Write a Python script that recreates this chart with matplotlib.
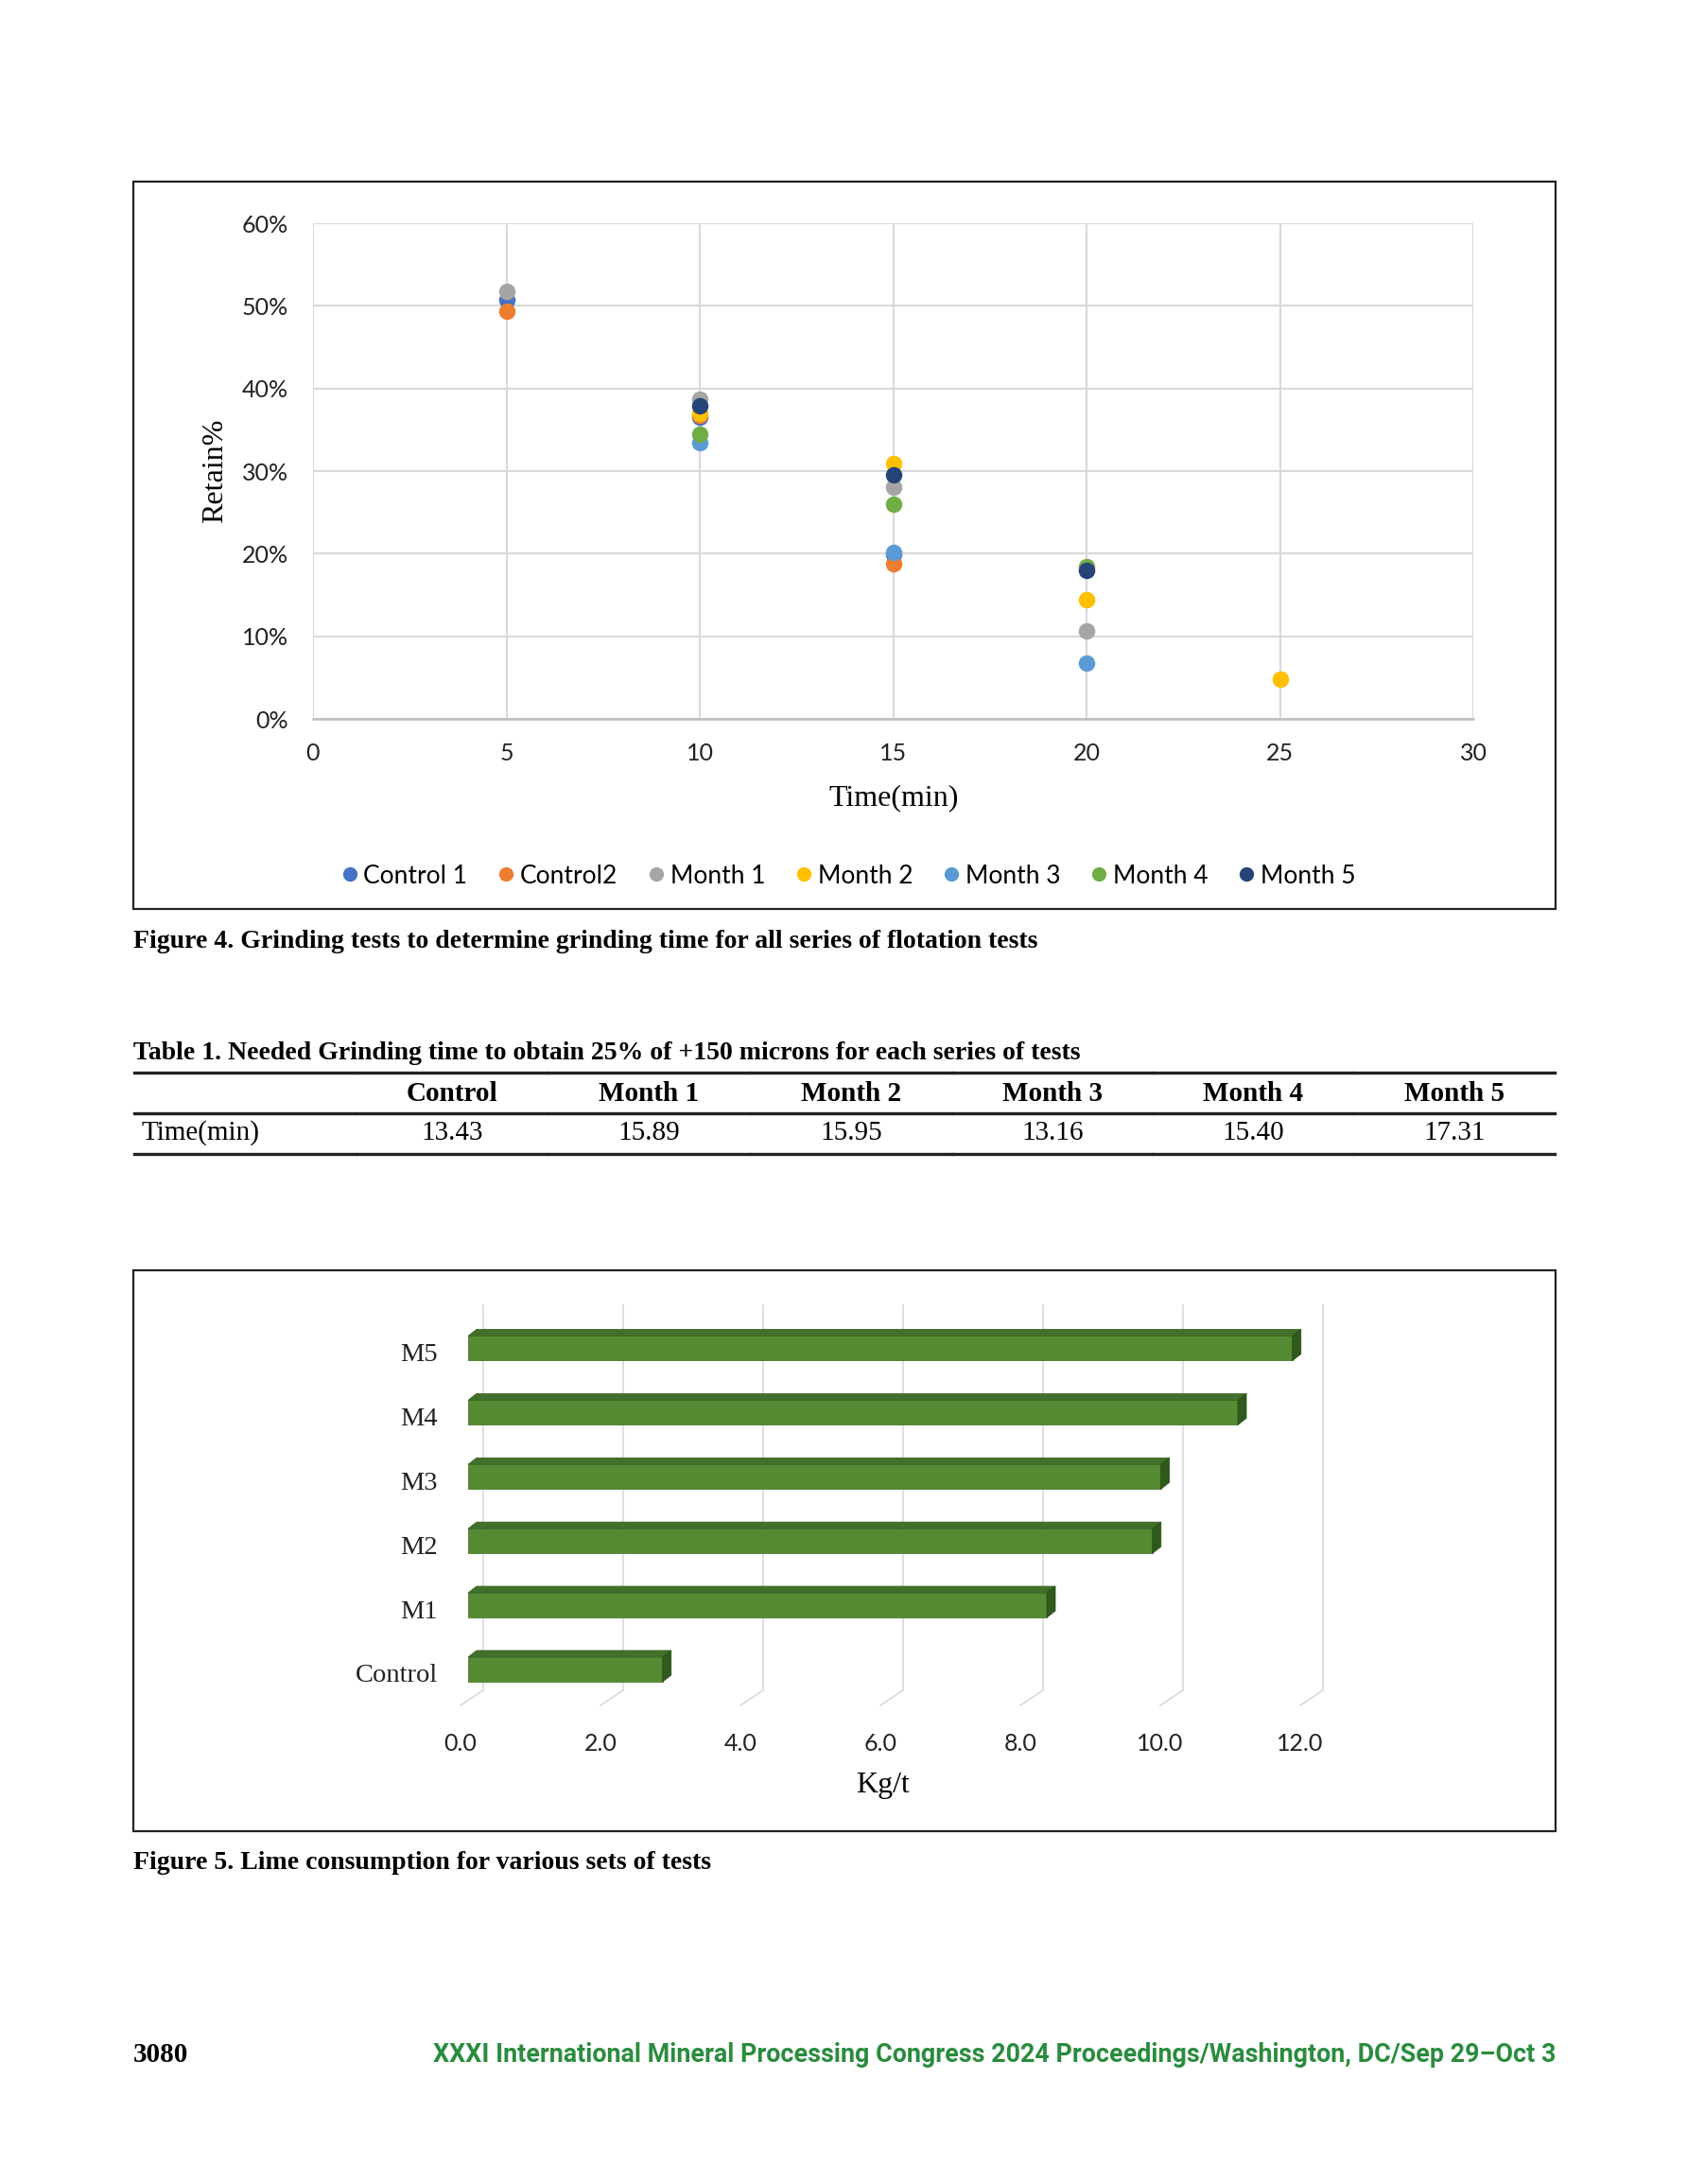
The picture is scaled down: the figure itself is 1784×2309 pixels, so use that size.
import matplotlib
matplotlib.use("Agg")
import matplotlib.pyplot as plt
from matplotlib.patches import Polygon, Rectangle
from matplotlib.lines import Line2D
from matplotlib.ticker import PercentFormatter
from matplotlib.transforms import ScaledTranslation

W, H = 1784, 2309

# Figure 4 - grinding tests (time in min, retain fraction)
series_names = ["Control 1", "Control2", "Month 1", "Month 2", "Month 3", "Month 4", "Month 5"]
series_colors = ["#4472C4", "#ED7D31", "#A5A5A5", "#FFC000", "#5B9BD5", "#70AD47", "#264478"]
control1_t = [5, 10, 15]
control1_r = [0.507, 0.365, 0.199]
control2_t = [5, 10, 15]
control2_r = [0.493, 0.367, 0.188]
month1_t = [5, 10, 15, 20]
month1_r = [0.518, 0.387, 0.280, 0.106]
month2_t = [10, 15, 20, 25]
month2_r = [0.370, 0.309, 0.144, 0.048]
month3_t = [10, 15, 20]
month3_r = [0.334, 0.201, 0.067]
month4_t = [10, 15, 20]
month4_r = [0.345, 0.260, 0.184]
month5_t = [10, 15, 20]
month5_r = [0.379, 0.295, 0.180]

# Table 1
table_cols = ["Control", "Month 1", "Month 2", "Month 3", "Month 4", "Month 5"]
table_row_label = "Time(min)"
table_values = ["13.43", "15.89", "15.95", "13.16", "15.40", "17.31"]

# Figure 5 - lime consumption
lime_cats = ["Control", "M1", "M2", "M3", "M4", "M5"]
lime_vals = [2.78, 8.27, 9.78, 9.9, 11.0, 11.78]
lime_ticks = [0, 2, 4, 6, 8, 10, 12]

SANS = "Lato"
SERIF = "Liberation Serif"


def px_axes(fig, x0, y0, x1, y1):
    return fig.add_axes([x0 / W, 1 - y1 / H, (x1 - x0) / W, (y1 - y0) / H])


def fx(x):
    return x / W


def fy(y):
    return 1 - y / H


fig = plt.figure(figsize=(W / 100, H / 100), dpi=100)
fig.patch.set_facecolor("white")

# frames around the two charts
for (x0, y0, x1, y1) in [(141, 192, 1645, 961), (141, 1343, 1645, 1936)]:
    fig.patches.append(Rectangle((fx(x0), fy(y1)), (x1 - x0) / W, (y1 - y0) / H,
                                 transform=fig.transFigure, fill=False,
                                 edgecolor="#222222", lw=1.6))

# ---- scatter chart ----
ax = px_axes(fig, 331, 236, 1558, 760)
ts = [control1_t, control2_t, month1_t, month2_t, month3_t, month4_t, month5_t]
rs = [control1_r, control2_r, month1_r, month2_r, month3_r, month4_r, month5_r]
for name, col, t, r in zip(series_names, series_colors, ts, rs):
    ax.plot(t, r, "o", color=col, markersize=12.6, markeredgewidth=0, label=name, zorder=3)
ax.set_xlim(0, 30)
ax.set_ylim(0, 0.6)
ax.set_xticks(range(0, 31, 5))
ax.set_yticks([i / 10 for i in range(7)])
ax.yaxis.set_major_formatter(PercentFormatter(1.0, decimals=0))
ax.grid(True, color="#D9D9D9", lw=1.5)
ax.set_axisbelow(True)
for s in ["top", "right", "left"]:
    ax.spines[s].set_visible(False)
ax.spines["bottom"].set_color("#BFBFBF")
ax.spines["bottom"].set_linewidth(1.8)
ax.tick_params(length=0, labelsize=18, colors="#222222")
ax.tick_params(axis="y", pad=19)
ax.tick_params(axis="x", pad=18)
for lab in ax.get_xticklabels() + ax.get_yticklabels():
    lab.set_fontfamily(SANS)
fig.text(fx(945), fy(844), "Time(min)", family=SERIF, fontsize=23, ha="center", va="center")
fig.text(fx(228), fy(498), "Retain%", family=SERIF, fontsize=23, ha="center", va="center",
         rotation=90)
handles = [Line2D([], [], ls="", marker="o", color=c, markersize=11, markeredgewidth=0)
           for c in series_colors]
fig.legend(handles, series_names, loc="center", bbox_to_anchor=(fx(895), fy(926)), ncol=7,
           frameon=False, prop={"family": SANS, "size": 19}, handletextpad=0.05,
           columnspacing=1.05, handlelength=1.0)

fig.text(fx(141), fy(995), "Figure 4. Grinding tests to determine grinding time for all series of flotation tests",
         family=SERIF, fontsize=20, weight="bold", ha="left", va="center")

# ---- table ----
fig.text(fx(141), fy(1113), "Table 1. Needed Grinding time to obtain 25% of +150 microns for each series of tests",
         family=SERIF, fontsize=20, weight="bold", ha="left", va="center")
col_edges = [141, 377, 579, 793, 1007, 1219, 1431, 1645]
for y in [1134, 1177, 1220]:
    for a, b in zip(col_edges[:-1], col_edges[1:]):
        fig.add_artist(Line2D([fx(a + 1), fx(b - 1)], [fy(y), fy(y)], color="#222222", lw=2.4,
                              transform=fig.transFigure))
fig.text(fx(149), fy(1198), table_row_label, family=SERIF, fontsize=21, ha="left", va="center")
for i, (c, v) in enumerate(zip(table_cols, table_values)):
    xc = (col_edges[i + 1] + col_edges[i + 2]) / 2
    fig.text(fx(xc), fy(1156), c, family=SERIF, fontsize=21, weight="bold", ha="center", va="center")
    fig.text(fx(xc), fy(1198), v, family=SERIF, fontsize=21, ha="center", va="center")

# ---- pseudo 3D bar chart ----
bx = px_axes(fig, 495, 1370, 1457, 1803)
bx.set_xlim(0, 13)
bx.set_ylim(-0.56, 5.817)
for s in bx.spines.values():
    s.set_visible(False)
back_dx = 16 / 74
floor_dx = 8 / 74
for v in lime_ticks:
    bx.plot([v + back_dx, v + back_dx], [-0.324, 5.67], color="#D9D9D9", lw=1.2, zorder=1)
    bx.plot([v + back_dx, v - floor_dx], [-0.324, -0.56], color="#D9D9D9", lw=1.2, zorder=1,
            clip_on=False)
h = 26 / 67.9
ddx = 9 / 74
ddy = 7 / 67.9
ypos = list(range(len(lime_cats)))
bx.barh(ypos, lime_vals, height=h, left=0, color="#558B32", edgecolor="#4A7A2B", lw=0.6, zorder=3)
for i, v in zip(ypos, lime_vals):
    top = Polygon([(0, i + h / 2), (v, i + h / 2), (v + ddx, i + h / 2 + ddy), (ddx, i + h / 2 + ddy)],
                  closed=True, facecolor="#41702A", edgecolor="#3A6424", lw=0.6, zorder=3)
    side = Polygon([(v, i - h / 2), (v, i + h / 2), (v + ddx, i + h / 2 + ddy), (v + ddx, i - h / 2 + ddy)],
                   closed=True, facecolor="#2F5A1B", edgecolor="#2A5118", lw=0.6, zorder=3)
    bx.add_patch(top)
    bx.add_patch(side)
bx.set_yticks(ypos)
bx.set_yticklabels(lime_cats, family=SERIF, fontsize=20.5)
bx.set_xticks(lime_ticks)
bx.set_xticklabels([f"{t:.1f}" for t in lime_ticks], family=SANS, fontsize=18)
bx.tick_params(length=0, colors="#222222")
bx.tick_params(axis="y", pad=23)
bx.tick_params(axis="x", pad=21)
shift = ScaledTranslation(-8 / 100, 0, fig.dpi_scale_trans)
for lab in bx.get_xticklabels():
    lab.set_transform(lab.get_transform() + shift)
shift_y = ScaledTranslation(0, -4 / 100, fig.dpi_scale_trans)
for lab in bx.get_yticklabels():
    lab.set_transform(lab.get_transform() + shift_y)
fig.text(fx(934), fy(1888), "Kg/t", family=SERIF, fontsize=23, ha="center", va="center")

fig.text(fx(141), fy(1970), "Figure 5. Lime consumption for various sets of tests",
         family=SERIF, fontsize=20, weight="bold", ha="left", va="center")

# ---- footer ----
fig.text(fx(141), fy(2173), "3080", family=SERIF, fontsize=21, weight="bold", ha="left", va="center")
fig.text(fx(1645), fy(2173), "XXXI International Mineral Processing Congress 2024 Proceedings/Washington, DC/Sep 29\u2013Oct 3",
         family="Roboto", fontsize=19.4, weight="bold", color="#2A8C3E", ha="right", va="center")

fig.savefig("out.png", dpi=100, facecolor="white")
